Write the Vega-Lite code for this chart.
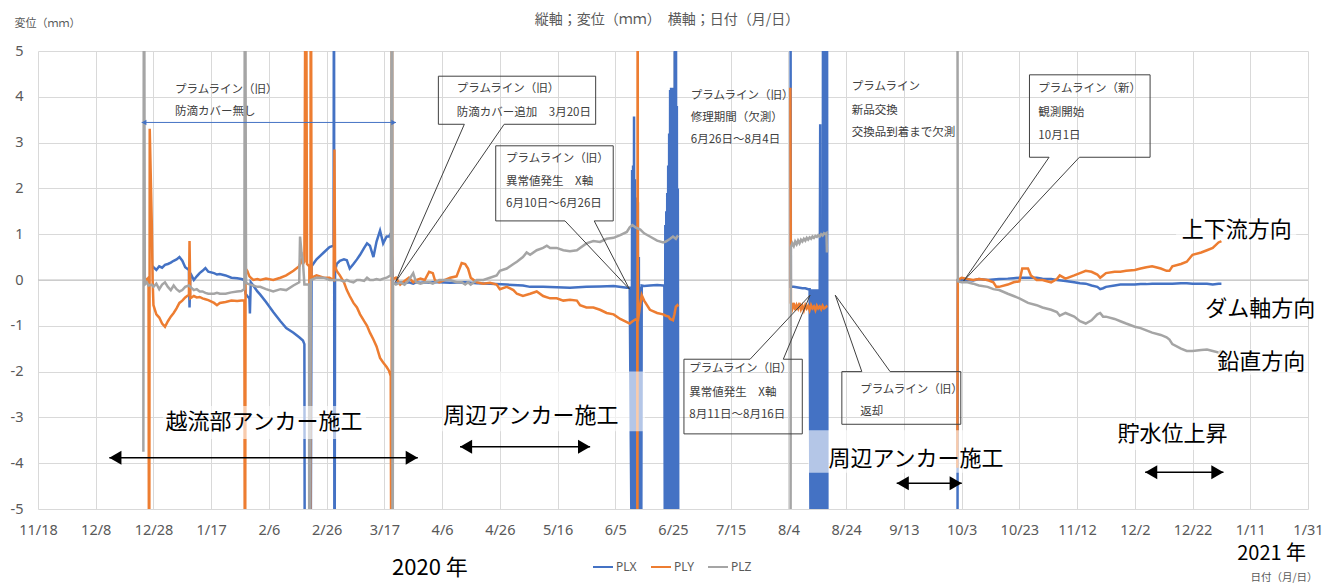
{
  "$schema": "https://vega.github.io/schema/vega-lite/v6.json",
  "width": 1270,
  "height": 458,
  "autosize": {"type": "none"},
  "padding": {"left": 38, "top": 51, "right": 30, "bottom": 74},
  "background": "white",
  "config": {"view": {"stroke": null}, "font": "Noto Sans CJK JP"},
  "title": {"text": "縦軸；変位（ｍｍ）　横軸；日付（月/日）", "font": "Noto Sans CJK JP", "fontSize": 14, "fontWeight": "normal", "color": "#595959", "anchor": "middle", "offset": 0, "dx": -6, "dy": 10},
  "datasets": {
    "series": [
      {"d":"2019-12-24T12:00:00Z","g":1,"PLZ":-3.75},
      {"d":"2019-12-24T17:00:00Z","g":1,"PLZ":10},
      {"d":"2019-12-25T00:00:00Z","g":1,"PLY":0.05,"PLZ":-0.1},
      {"d":"2019-12-25T16:00:00Z","g":1,"PLY":0.0,"PLZ":-0.05},
      {"d":"2019-12-26T07:00:00Z","g":1,"PLY":0.05,"PLZ":-0.12},
      {"d":"2019-12-26T12:00:00Z","g":1,"PLY":-10},
      {"d":"2019-12-26T17:00:00Z","g":1,"PLY":3.3},
      {"d":"2019-12-27T10:00:00Z","g":1,"PLY":1.25,"PLZ":-0.1},
      {"d":"2019-12-27T17:00:00Z","g":1,"PLX":0.25,"PLY":0.0},
      {"d":"2019-12-28","g":1,"PLX":0.28,"PLY":-0.55,"PLZ":-0.15},
      {"d":"2019-12-29","g":1,"PLX":0.22,"PLY":-0.75,"PLZ":-0.08},
      {"d":"2019-12-30","g":1,"PLX":0.3,"PLY":-0.82,"PLZ":-0.2},
      {"d":"2019-12-31","g":1,"PLX":0.27,"PLY":-0.95,"PLZ":-0.1},
      {"d":"2020-01-01","g":1,"PLX":0.33,"PLY":-1.02,"PLZ":-0.05},
      {"d":"2020-01-02","g":1,"PLX":0.35,"PLY":-0.9,"PLZ":-0.15},
      {"d":"2020-01-03","g":1,"PLX":0.38,"PLY":-0.8,"PLZ":-0.22},
      {"d":"2020-01-04","g":1,"PLX":0.42,"PLY":-0.72,"PLZ":-0.12},
      {"d":"2020-01-05","g":1,"PLX":0.45,"PLY":-0.62,"PLZ":-0.2},
      {"d":"2020-01-06","g":1,"PLX":0.5,"PLY":-0.5,"PLZ":-0.25},
      {"d":"2020-01-07","g":1,"PLX":0.42,"PLY":-0.45,"PLZ":-0.22},
      {"d":"2020-01-08","g":1,"PLX":0.28,"PLY":-0.38,"PLZ":-0.15},
      {"d":"2020-01-09T07:00:00Z","g":1,"PLX":0.22,"PLY":-0.32,"PLZ":-0.12},
      {"d":"2020-01-09T12:00:00Z","g":1,"PLX":-0.6,"PLY":0.85},
      {"d":"2020-01-09T19:00:00Z","g":1,"PLX":0.15,"PLY":-0.4,"PLZ":-0.15},
      {"d":"2020-01-11","g":1,"PLX":0.0,"PLY":-0.35,"PLZ":-0.22},
      {"d":"2020-01-12","g":1,"PLX":0.08,"PLY":-0.38,"PLZ":-0.2},
      {"d":"2020-01-13","g":1,"PLX":0.15,"PLY":-0.37,"PLZ":-0.25},
      {"d":"2020-01-14","g":1,"PLX":0.2,"PLY":-0.4,"PLZ":-0.25},
      {"d":"2020-01-15","g":1,"PLX":0.26,"PLY":-0.42,"PLZ":-0.28},
      {"d":"2020-01-16","g":1,"PLX":0.18,"PLY":-0.44,"PLZ":-0.3},
      {"d":"2020-01-18","g":1,"PLX":0.15,"PLY":-0.5,"PLZ":-0.3},
      {"d":"2020-01-19","g":1,"PLX":0.12,"PLY":-0.55,"PLZ":-0.28},
      {"d":"2020-01-20","g":1,"PLX":0.13,"PLY":-0.5,"PLZ":-0.3},
      {"d":"2020-01-22","g":1,"PLX":0.1,"PLY":-0.48,"PLZ":-0.3},
      {"d":"2020-01-24","g":1,"PLX":0.05,"PLY":-0.45,"PLZ":-0.27},
      {"d":"2020-01-26","g":1,"PLX":0.04,"PLY":-0.46,"PLZ":-0.25},
      {"d":"2020-01-27T12:00:00Z","g":1,"PLX":0.02,"PLY":-0.45,"PLZ":-0.24},
      {"d":"2020-01-28T12:00:00Z","g":1,"PLX":0.0,"PLY":-0.45,"PLZ":-0.2},
      {"d":"2020-01-28T17:00:00Z","g":1,"PLY":-10,"PLZ":10},
      {"d":"2020-01-28T22:00:00Z","g":1,"PLX":-0.3,"PLY":0.25},
      {"d":"2020-01-29T02:00:00Z","g":1,"PLZ":-0.05},
      {"d":"2020-01-29T12:00:00Z","g":1,"PLX":-0.35,"PLY":0.2,"PLZ":-0.08},
      {"d":"2020-01-30T06:00:00Z","g":1,"PLX":-0.4,"PLY":0.08},
      {"d":"2020-01-30T10:00:00Z","g":1,"PLX":-0.73},
      {"d":"2020-01-30T17:00:00Z","g":1,"PLX":-0.05,"PLY":0.05,"PLZ":-0.1},
      {"d":"2020-01-31T14:00:00Z","g":1,"PLX":-0.12,"PLY":0.0,"PLZ":-0.12},
      {"d":"2020-02-02","g":1,"PLX":-0.25,"PLY":0.02,"PLZ":-0.15},
      {"d":"2020-02-03","g":1,"PLX":-0.32,"PLY":0.0,"PLZ":-0.15},
      {"d":"2020-02-05","g":1,"PLX":-0.48,"PLY":0.03,"PLZ":-0.2},
      {"d":"2020-02-07T12:00:00Z","g":1,"PLX":-0.7,"PLY":0.0,"PLZ":-0.25},
      {"d":"2020-02-10","g":1,"PLX":-0.9,"PLY":0.05,"PLZ":-0.2},
      {"d":"2020-02-12","g":1,"PLX":-1.05,"PLY":0.1,"PLZ":-0.22},
      {"d":"2020-02-14T12:00:00Z","g":1,"PLX":-1.15,"PLY":0.2,"PLZ":-0.12},
      {"d":"2020-02-16T12:00:00Z","g":1,"PLX":-1.25,"PLY":0.3,"PLZ":-0.05},
      {"d":"2020-02-16T19:00:00Z","g":1,"PLZ":0.95},
      {"d":"2020-02-17T07:00:00Z","g":1,"PLY":0.45,"PLZ":0.6},
      {"d":"2020-02-17T19:00:00Z","g":1,"PLX":-1.32,"PLY":0.35,"PLZ":0.4},
      {"d":"2020-02-18T07:00:00Z","g":1,"PLX":-1.4,"PLY":0.4,"PLZ":-0.1},
      {"d":"2020-02-18T12:00:00Z","g":1,"PLX":-10},
      {"d":"2020-02-18T19:00:00Z","g":1,"PLY":10},
      {"d":"2020-02-19T05:00:00Z","g":1,"PLY":0.35},
      {"d":"2020-02-19T22:00:00Z","g":1,"PLZ":-0.1},
      {"d":"2020-02-20T00:00:00Z","g":1,"PLY":0.3,"PLZ":-10},
      {"d":"2020-02-20T07:00:00Z","g":1,"PLX":-10,"PLY":-10},
      {"d":"2020-02-20T12:00:00Z","g":1,"PLY":10,"PLZ":0.0},
      {"d":"2020-02-20T19:00:00Z","g":1,"PLX":0.3,"PLY":0.05},
      {"d":"2020-02-22T12:00:00Z","g":1,"PLX":0.45,"PLY":0.1,"PLZ":0.05},
      {"d":"2020-02-25","g":1,"PLX":0.6,"PLY":0.05,"PLZ":0.05},
      {"d":"2020-02-27","g":1,"PLX":0.72,"PLY":0.05,"PLZ":0.0},
      {"d":"2020-02-28T10:00:00Z","g":1,"PLX":0.75,"PLY":0.0,"PLZ":0.0},
      {"d":"2020-02-28T13:00:00Z","g":1,"PLX":10},
      {"d":"2020-02-28T17:00:00Z","g":1,"PLX":-10,"PLY":2.85},
      {"d":"2020-02-28T22:00:00Z","g":1,"PLX":0.2,"PLY":0.3},
      {"d":"2020-02-29T12:00:00Z","g":1,"PLX":0.35,"PLY":0.2,"PLZ":0.0},
      {"d":"2020-03-01T14:00:00Z","g":1,"PLX":0.42,"PLY":0.1,"PLZ":0.0},
      {"d":"2020-03-03","g":1,"PLX":0.45,"PLY":-0.05,"PLZ":-0.03},
      {"d":"2020-03-04","g":1,"PLX":0.43,"PLY":-0.22,"PLZ":0.0},
      {"d":"2020-03-05","g":1,"PLX":0.25,"PLY":-0.35,"PLZ":-0.03},
      {"d":"2020-03-06T07:00:00Z","g":1,"PLX":0.35,"PLY":-0.5,"PLZ":-0.05},
      {"d":"2020-03-07T12:00:00Z","g":1,"PLX":0.45,"PLY":-0.6,"PLZ":0.0},
      {"d":"2020-03-08T14:00:00Z","g":1,"PLX":0.55,"PLY":-0.75,"PLZ":0.0},
      {"d":"2020-03-10","g":1,"PLX":0.7,"PLY":-0.9,"PLZ":-0.02},
      {"d":"2020-03-11","g":1,"PLX":0.8,"PLY":-1.0,"PLZ":0.05},
      {"d":"2020-03-12","g":1,"PLX":0.75,"PLY":-1.15,"PLZ":0.0},
      {"d":"2020-03-13T05:00:00Z","g":1,"PLX":0.5,"PLY":-1.3,"PLZ":0.0},
      {"d":"2020-03-14T07:00:00Z","g":1,"PLX":0.84,"PLY":-1.45,"PLZ":0.02},
      {"d":"2020-03-15T12:00:00Z","g":1,"PLX":1.08,"PLY":-1.7,"PLZ":0.0},
      {"d":"2020-03-16T14:00:00Z","g":1,"PLX":0.8,"PLY":-1.8,"PLZ":0.03},
      {"d":"2020-03-17T19:00:00Z","g":1,"PLX":0.95,"PLY":-1.9,"PLZ":0.05},
      {"d":"2020-03-18T14:00:00Z","g":1,"PLX":0.95,"PLY":-1.98,"PLZ":0.08},
      {"d":"2020-03-19T05:00:00Z","g":1,"PLX":1.02,"PLY":-2.1,"PLZ":0.1},
      {"d":"2020-03-19T12:00:00Z","g":1,"PLY":-10},
      {"d":"2020-03-19T14:00:00Z","g":1,"PLY":10},
      {"d":"2020-03-19T18:00:00Z","g":1,"PLY":0.0,"PLZ":10},
      {"d":"2020-03-19T20:00:00Z","g":1,"PLZ":-10},
      {"d":"2020-03-20","g":1,"PLX":-0.05,"PLY":0.02,"PLZ":-0.05},
      {"d":"2020-03-21","g":1,"PLX":-0.08,"PLY":0.05,"PLZ":-0.1},
      {"d":"2020-03-22T12:00:00Z","g":1,"PLX":-0.05,"PLY":-0.1,"PLZ":-0.05},
      {"d":"2020-03-24","g":1,"PLX":-0.07,"PLY":-0.02,"PLZ":-0.1},
      {"d":"2020-03-25T12:00:00Z","g":1,"PLX":-0.05,"PLY":0.05,"PLZ":0.0},
      {"d":"2020-03-27","g":1,"PLX":-0.08,"PLY":-0.05,"PLZ":0.15},
      {"d":"2020-03-28","g":1,"PLX":-0.05,"PLY":0.0,"PLZ":-0.05},
      {"d":"2020-03-29T12:00:00Z","g":1,"PLX":-0.06,"PLY":0.03,"PLZ":-0.08},
      {"d":"2020-03-31","g":1,"PLX":-0.05,"PLY":0.0,"PLZ":-0.05},
      {"d":"2020-04-01T12:00:00Z","g":1,"PLX":-0.06,"PLY":0.18,"PLZ":-0.05},
      {"d":"2020-04-02T19:00:00Z","g":1,"PLX":-0.05,"PLY":0.15,"PLZ":-0.08},
      {"d":"2020-04-03T12:00:00Z","g":1,"PLY":0.0},
      {"d":"2020-04-05","g":1,"PLX":-0.05,"PLY":-0.05,"PLZ":0.0},
      {"d":"2020-04-08T19:00:00Z","g":1,"PLX":-0.06,"PLY":0.05,"PLZ":0.0},
      {"d":"2020-04-11","g":1,"PLY":0.08,"PLZ":-0.05},
      {"d":"2020-04-12T19:00:00Z","g":1,"PLY":0.37,"PLZ":-0.05},
      {"d":"2020-04-14","g":1,"PLX":-0.05,"PLY":0.35,"PLZ":-0.1},
      {"d":"2020-04-15","g":1,"PLY":0.25,"PLZ":-0.05},
      {"d":"2020-04-15T22:00:00Z","g":1,"PLY":0.05,"PLZ":-0.1},
      {"d":"2020-04-18","g":1,"PLX":-0.07,"PLY":-0.05,"PLZ":0.0},
      {"d":"2020-04-20T07:00:00Z","g":1,"PLY":-0.08,"PLZ":0.0},
      {"d":"2020-04-22T14:00:00Z","g":1,"PLX":-0.08,"PLY":-0.06,"PLZ":0.05},
      {"d":"2020-04-24T22:00:00Z","g":1,"PLY":-0.1,"PLZ":0.1},
      {"d":"2020-04-26","g":1,"PLY":-0.2,"PLZ":0.2},
      {"d":"2020-04-28T10:00:00Z","g":1,"PLX":-0.1,"PLY":-0.15,"PLZ":0.25},
      {"d":"2020-04-30T17:00:00Z","g":1,"PLY":-0.22,"PLZ":0.35},
      {"d":"2020-05-01T22:00:00Z","g":1,"PLY":-0.3,"PLZ":0.4},
      {"d":"2020-05-04","g":1,"PLX":-0.12,"PLY":-0.35,"PLZ":0.5},
      {"d":"2020-05-05T07:00:00Z","g":1,"PLZ":0.6},
      {"d":"2020-05-06T12:00:00Z","g":1,"PLX":-0.15,"PLY":-0.3,"PLZ":0.55},
      {"d":"2020-05-08T19:00:00Z","g":1,"PLY":-0.25,"PLZ":0.65},
      {"d":"2020-05-11","g":1,"PLX":-0.15,"PLY":-0.35,"PLZ":0.7},
      {"d":"2020-05-12T07:00:00Z","g":1,"PLZ":0.75},
      {"d":"2020-05-13T10:00:00Z","g":1,"PLY":-0.4,"PLZ":0.7},
      {"d":"2020-05-15T17:00:00Z","g":1,"PLX":-0.16,"PLY":-0.4,"PLZ":0.7},
      {"d":"2020-05-18","g":1,"PLY":-0.45,"PLZ":0.65},
      {"d":"2020-05-20T07:00:00Z","g":1,"PLX":-0.17,"PLY":-0.43,"PLZ":0.63},
      {"d":"2020-05-22T17:00:00Z","g":1,"PLY":-0.45,"PLZ":0.65},
      {"d":"2020-05-23T19:00:00Z","g":1,"PLY":-0.55,"PLZ":0.7},
      {"d":"2020-05-26","g":1,"PLX":-0.15,"PLY":-0.6,"PLZ":0.8},
      {"d":"2020-05-28T10:00:00Z","g":1,"PLY":-0.6,"PLZ":0.85},
      {"d":"2020-05-30T17:00:00Z","g":1,"PLX":-0.14,"PLY":-0.65,"PLZ":0.83},
      {"d":"2020-06-02","g":1,"PLY":-0.72,"PLZ":0.9},
      {"d":"2020-06-04T10:00:00Z","g":1,"PLX":-0.13,"PLY":-0.75,"PLZ":0.92},
      {"d":"2020-06-06T17:00:00Z","g":1,"PLY":-0.85,"PLZ":0.98},
      {"d":"2020-06-09","g":1,"PLX":-0.17,"PLY":-0.92,"PLZ":1.05},
      {"d":"2020-06-10","g":1,"PLX":-0.17,"PLY":-0.95,"PLZ":1.15},
      {"d":"2020-06-10T16:00:00Z","g":1,"PLX":-6},
      {"d":"2020-06-10T20:00:00Z","g":1,"PLX":2.4},
      {"d":"2020-06-10T22:00:00Z","g":1,"PLZ":1.2},
      {"d":"2020-06-11T00:00:00Z","g":1,"PLX":-6,"PLY":-0.9},
      {"d":"2020-06-11T04:00:00Z","g":1,"PLX":2.5},
      {"d":"2020-06-11T08:00:00Z","g":1,"PLX":-6},
      {"d":"2020-06-11T12:00:00Z","g":1,"PLX":3.57},
      {"d":"2020-06-11T16:00:00Z","g":1,"PLX":-6},
      {"d":"2020-06-11T20:00:00Z","g":1,"PLX":2.2},
      {"d":"2020-06-12T00:00:00Z","g":1,"PLX":-6,"PLY":-0.86,"PLZ":1.15},
      {"d":"2020-06-12T04:00:00Z","g":1,"PLX":1.8},
      {"d":"2020-06-12T08:00:00Z","g":1,"PLX":-6},
      {"d":"2020-06-12T12:00:00Z","g":1,"PLX":1.8},
      {"d":"2020-06-12T15:00:00Z","g":1,"PLY":-0.88},
      {"d":"2020-06-12T16:00:00Z","g":1,"PLX":-6,"PLY":-10},
      {"d":"2020-06-12T18:00:00Z","g":1,"PLY":10},
      {"d":"2020-06-12T20:00:00Z","g":1,"PLX":1.7,"PLY":-0.9},
      {"d":"2020-06-13T00:00:00Z","g":1,"PLX":-6},
      {"d":"2020-06-13T04:00:00Z","g":1,"PLX":0.5},
      {"d":"2020-06-13T08:00:00Z","g":1,"PLX":-6},
      {"d":"2020-06-13T12:00:00Z","g":1,"PLX":-0.2,"PLY":-0.6},
      {"d":"2020-06-13T16:00:00Z","g":1,"PLX":-6,"PLZ":1.1},
      {"d":"2020-06-13T20:00:00Z","g":1,"PLX":-0.15},
      {"d":"2020-06-14T00:00:00Z","g":1,"PLX":-6},
      {"d":"2020-06-14T04:00:00Z","g":1,"PLX":-0.12,"PLY":-0.33},
      {"d":"2020-06-15","g":1,"PLX":-0.13,"PLY":-0.45,"PLZ":1.02},
      {"d":"2020-06-17","g":1,"PLX":-0.12,"PLY":-0.65,"PLZ":0.95},
      {"d":"2020-06-19T12:00:00Z","g":1,"PLX":-0.11,"PLY":-0.72,"PLZ":0.86},
      {"d":"2020-06-21T14:00:00Z","g":1,"PLX":-0.12,"PLY":-0.75,"PLZ":0.82},
      {"d":"2020-06-22T00:00:00Z","g":1,"PLX":-0.12},
      {"d":"2020-06-22T04:00:00Z","g":1,"PLX":-6},
      {"d":"2020-06-22T08:00:00Z","g":1,"PLX":1.2},
      {"d":"2020-06-22T12:00:00Z","g":1,"PLX":-6,"PLY":-0.78,"PLZ":0.84},
      {"d":"2020-06-22T16:00:00Z","g":1,"PLX":1.5},
      {"d":"2020-06-22T20:00:00Z","g":1,"PLX":-6},
      {"d":"2020-06-23T00:00:00Z","g":1,"PLX":1.9},
      {"d":"2020-06-23T04:00:00Z","g":1,"PLX":-6},
      {"d":"2020-06-23T08:00:00Z","g":1,"PLX":2.5},
      {"d":"2020-06-23T12:00:00Z","g":1,"PLX":-6,"PLY":-0.8,"PLZ":0.88},
      {"d":"2020-06-23T16:00:00Z","g":1,"PLX":3.2},
      {"d":"2020-06-23T20:00:00Z","g":1,"PLX":-6},
      {"d":"2020-06-24T00:00:00Z","g":1,"PLX":4.15,"PLY":-0.85,"PLZ":0.9},
      {"d":"2020-06-24T04:00:00Z","g":1,"PLX":-6},
      {"d":"2020-06-24T08:00:00Z","g":1,"PLX":4.2},
      {"d":"2020-06-24T12:00:00Z","g":1,"PLX":-6},
      {"d":"2020-06-24T16:00:00Z","g":1,"PLX":4.1},
      {"d":"2020-06-24T20:00:00Z","g":1,"PLX":-6},
      {"d":"2020-06-25T00:00:00Z","g":1,"PLX":4.2,"PLY":-0.88,"PLZ":0.95},
      {"d":"2020-06-25T04:00:00Z","g":1,"PLX":-6},
      {"d":"2020-06-25T08:00:00Z","g":1,"PLX":4.1},
      {"d":"2020-06-25T12:00:00Z","g":1,"PLX":-6,"PLY":-0.75},
      {"d":"2020-06-25T16:00:00Z","g":1,"PLX":10},
      {"d":"2020-06-25T20:00:00Z","g":1,"PLX":-6},
      {"d":"2020-06-26T00:00:00Z","g":1,"PLX":10,"PLY":-0.58,"PLZ":0.9},
      {"d":"2020-06-26T04:00:00Z","g":1,"PLX":-6},
      {"d":"2020-06-26T08:00:00Z","g":1,"PLX":3.8},
      {"d":"2020-06-26T12:00:00Z","g":1,"PLX":-6,"PLY":-0.55,"PLZ":0.95},
      {"d":"2020-06-26T16:00:00Z","g":1,"PLX":2.0},
      {"d":"2020-06-26T20:00:00Z","g":1,"PLX":-6,"PLY":-0.58,"PLZ":0.93},
      {"d":"2020-08-04T16:00:00Z","g":2,"PLX":10,"PLY":4.2,"PLZ":-10},
      {"d":"2020-08-04T20:00:00Z","g":2,"PLX":-0.15,"PLY":-0.5,"PLZ":0.72},
      {"d":"2020-08-05T08:00:00Z","g":2,"PLY":-0.62,"PLZ":0.8},
      {"d":"2020-08-05T20:00:00Z","g":2,"PLX":-0.15,"PLY":-0.5,"PLZ":0.74},
      {"d":"2020-08-06T08:00:00Z","g":2,"PLY":-0.66,"PLZ":0.84},
      {"d":"2020-08-06T20:00:00Z","g":2,"PLX":-0.16,"PLY":-0.55,"PLZ":0.78},
      {"d":"2020-08-07T08:00:00Z","g":2,"PLY":-0.62,"PLZ":0.86},
      {"d":"2020-08-07T20:00:00Z","g":2,"PLX":-0.17,"PLY":-0.5,"PLZ":0.8},
      {"d":"2020-08-08T08:00:00Z","g":2,"PLY":-0.64,"PLZ":0.88},
      {"d":"2020-08-08T20:00:00Z","g":2,"PLX":-0.18,"PLY":-0.56,"PLZ":0.84},
      {"d":"2020-08-09T08:00:00Z","g":2,"PLY":-0.66,"PLZ":0.9},
      {"d":"2020-08-09T20:00:00Z","g":2,"PLX":-0.18,"PLY":-0.55,"PLZ":0.86},
      {"d":"2020-08-10T08:00:00Z","g":2,"PLY":-0.62,"PLZ":0.92},
      {"d":"2020-08-10T20:00:00Z","g":2,"PLX":-0.2,"PLY":-0.56,"PLZ":0.88},
      {"d":"2020-08-11T08:00:00Z","g":2,"PLX":-0.2,"PLY":-0.66,"PLZ":0.93},
      {"d":"2020-08-11T16:00:00Z","g":2,"PLX":-6},
      {"d":"2020-08-11T20:00:00Z","g":2,"PLX":-0.2,"PLY":-0.55,"PLZ":0.9},
      {"d":"2020-08-12T00:00:00Z","g":2,"PLX":-6},
      {"d":"2020-08-12T04:00:00Z","g":2,"PLX":-0.2},
      {"d":"2020-08-12T08:00:00Z","g":2,"PLX":-6,"PLY":-0.62,"PLZ":0.95},
      {"d":"2020-08-12T12:00:00Z","g":2,"PLX":-0.22},
      {"d":"2020-08-12T16:00:00Z","g":2,"PLX":-6},
      {"d":"2020-08-12T20:00:00Z","g":2,"PLX":-0.2,"PLY":-0.58,"PLZ":0.92},
      {"d":"2020-08-13T00:00:00Z","g":2,"PLX":-6},
      {"d":"2020-08-13T04:00:00Z","g":2,"PLX":-0.2},
      {"d":"2020-08-13T08:00:00Z","g":2,"PLX":-6,"PLY":-0.66,"PLZ":0.96},
      {"d":"2020-08-13T12:00:00Z","g":2,"PLX":-0.22},
      {"d":"2020-08-13T16:00:00Z","g":2,"PLX":-6},
      {"d":"2020-08-13T20:00:00Z","g":2,"PLX":-0.2,"PLY":-0.56,"PLZ":0.94},
      {"d":"2020-08-14T00:00:00Z","g":2,"PLX":-6},
      {"d":"2020-08-14T04:00:00Z","g":2,"PLX":-0.2},
      {"d":"2020-08-14T08:00:00Z","g":2,"PLX":-6,"PLY":-0.62,"PLZ":0.98},
      {"d":"2020-08-14T12:00:00Z","g":2,"PLX":-0.22},
      {"d":"2020-08-14T16:00:00Z","g":2,"PLX":-6},
      {"d":"2020-08-14T20:00:00Z","g":2,"PLX":-0.2,"PLY":-0.58,"PLZ":0.95},
      {"d":"2020-08-15T00:00:00Z","g":2,"PLX":3.4},
      {"d":"2020-08-15T04:00:00Z","g":2,"PLX":-6},
      {"d":"2020-08-15T08:00:00Z","g":2,"PLX":-0.2,"PLY":-0.64,"PLZ":1.0},
      {"d":"2020-08-15T12:00:00Z","g":2,"PLX":-6},
      {"d":"2020-08-15T16:00:00Z","g":2,"PLX":-0.2},
      {"d":"2020-08-15T20:00:00Z","g":2,"PLX":-6,"PLY":-0.56,"PLZ":0.97},
      {"d":"2020-08-16T00:00:00Z","g":2,"PLX":10},
      {"d":"2020-08-16T04:00:00Z","g":2,"PLX":-6},
      {"d":"2020-08-16T08:00:00Z","g":2,"PLX":10,"PLY":-0.62,"PLZ":1.02},
      {"d":"2020-08-16T12:00:00Z","g":2,"PLX":-6},
      {"d":"2020-08-16T16:00:00Z","g":2,"PLX":10},
      {"d":"2020-08-16T20:00:00Z","g":2,"PLX":-6,"PLY":-0.6,"PLZ":1.0},
      {"d":"2020-08-17T00:00:00Z","g":2,"PLX":10},
      {"d":"2020-08-17T04:00:00Z","g":2,"PLX":-6,"PLY":-0.58,"PLZ":1.02},
      {"d":"2020-08-17T08:00:00Z","g":2,"PLX":10,"PLY":-0.6,"PLZ":0.6},
      {"d":"2020-08-17T12:00:00Z","g":2,"PLX":-6},
      {"d":"2020-10-01T12:00:00Z","g":3,"PLX":-10,"PLY":-4.1,"PLZ":10},
      {"d":"2020-10-01T16:00:00Z","g":3,"PLX":0.0,"PLY":0.0,"PLZ":-0.03},
      {"d":"2020-10-03","g":3,"PLX":0.0,"PLY":0.05,"PLZ":-0.05},
      {"d":"2020-10-05","g":3,"PLX":0.0,"PLY":0.02,"PLZ":-0.05},
      {"d":"2020-10-07","g":3,"PLX":-0.01,"PLY":0.0,"PLZ":-0.08},
      {"d":"2020-10-09","g":3,"PLX":0.02,"PLY":0.02,"PLZ":-0.12},
      {"d":"2020-10-12","g":3,"PLX":0.0,"PLY":0.0,"PLZ":-0.15},
      {"d":"2020-10-14","g":3,"PLX":0.01,"PLY":-0.05,"PLZ":-0.2},
      {"d":"2020-10-15","g":3,"PLY":-0.15},
      {"d":"2020-10-16","g":3,"PLX":0.02,"PLY":-0.15,"PLZ":-0.22},
      {"d":"2020-10-19","g":3,"PLX":0.03,"PLY":-0.1,"PLZ":-0.3},
      {"d":"2020-10-21","g":3,"PLX":0.04,"PLY":-0.05,"PLZ":-0.35},
      {"d":"2020-10-23","g":3,"PLX":0.05,"PLY":-0.03,"PLZ":-0.4},
      {"d":"2020-10-24","g":3,"PLY":0.25},
      {"d":"2020-10-26","g":3,"PLX":0.05,"PLY":0.25,"PLZ":-0.5},
      {"d":"2020-10-27","g":3,"PLY":0.1},
      {"d":"2020-10-29","g":3,"PLX":0.05,"PLY":0.0,"PLZ":-0.55},
      {"d":"2020-10-31","g":3,"PLX":0.03,"PLY":0.0,"PLZ":-0.6},
      {"d":"2020-11-03","g":3,"PLX":0.02,"PLY":-0.05,"PLZ":-0.65},
      {"d":"2020-11-05","g":3,"PLX":0.0,"PLY":0.02,"PLZ":-0.7},
      {"d":"2020-11-06","g":3,"PLY":0.1,"PLZ":-0.78},
      {"d":"2020-11-08","g":3,"PLX":-0.02,"PLY":0.03,"PLZ":-0.72},
      {"d":"2020-11-11","g":3,"PLX":-0.05,"PLY":0.1,"PLZ":-0.8},
      {"d":"2020-11-13","g":3,"PLX":-0.07,"PLY":0.15,"PLZ":-0.9},
      {"d":"2020-11-15","g":3,"PLX":-0.08,"PLY":0.2,"PLZ":-0.95},
      {"d":"2020-11-17","g":3,"PLX":-0.12,"PLY":0.18,"PLZ":-0.88},
      {"d":"2020-11-19","g":3,"PLX":-0.15,"PLY":0.12,"PLZ":-0.75},
      {"d":"2020-11-20","g":3,"PLX":-0.2,"PLY":0.05,"PLZ":-0.72},
      {"d":"2020-11-21","g":3,"PLX":-0.18,"PLY":0.1,"PLZ":-0.8},
      {"d":"2020-11-22","g":3,"PLX":-0.15,"PLY":0.15,"PLZ":-0.8},
      {"d":"2020-11-25","g":3,"PLX":-0.12,"PLY":0.18,"PLZ":-0.85},
      {"d":"2020-11-27","g":3,"PLX":-0.1,"PLY":0.18,"PLZ":-0.9},
      {"d":"2020-11-29","g":3,"PLX":-0.1,"PLY":0.2,"PLZ":-0.95},
      {"d":"2020-12-02","g":3,"PLX":-0.1,"PLY":0.22,"PLZ":-1.02},
      {"d":"2020-12-04","g":3,"PLX":-0.09,"PLY":0.25,"PLZ":-1.05},
      {"d":"2020-12-06","g":3,"PLX":-0.09,"PLY":0.28,"PLZ":-1.1},
      {"d":"2020-12-08","g":3,"PLX":-0.08,"PLY":0.3,"PLZ":-1.15},
      {"d":"2020-12-11","g":3,"PLX":-0.08,"PLY":0.25,"PLZ":-1.2},
      {"d":"2020-12-13","g":3,"PLX":-0.08,"PLY":0.2,"PLZ":-1.25},
      {"d":"2020-12-14","g":3,"PLY":0.2,"PLZ":-1.3},
      {"d":"2020-12-15","g":3,"PLX":-0.08,"PLY":0.3,"PLZ":-1.4},
      {"d":"2020-12-18","g":3,"PLX":-0.07,"PLY":0.35,"PLZ":-1.5},
      {"d":"2020-12-20","g":3,"PLX":-0.07,"PLY":0.4,"PLZ":-1.55},
      {"d":"2020-12-22","g":3,"PLX":-0.08,"PLY":0.55,"PLZ":-1.55},
      {"d":"2020-12-25","g":3,"PLX":-0.08,"PLY":0.6,"PLZ":-1.53},
      {"d":"2020-12-27","g":3,"PLX":-0.08,"PLY":0.65,"PLZ":-1.52},
      {"d":"2020-12-29","g":3,"PLX":-0.1,"PLY":0.7,"PLZ":-1.55},
      {"d":"2020-12-31","g":3,"PLX":-0.08,"PLY":0.82,"PLZ":-1.58},
      {"d":"2021-01-01","g":3,"PLX":-0.08,"PLY":0.85,"PLZ":-1.55}
    ],
    "edges": [
      {"x1":"2020-04-04T17:00:00Z","x2":"2020-05-29T05:00:00Z","y1":4.45,"y2":4.45},
      {"x1":"2020-04-04T17:00:00Z","x2":"2020-04-04T17:00:00Z","y1":4.45,"y2":3.4},
      {"x1":"2020-05-29T05:00:00Z","x2":"2020-05-29T05:00:00Z","y1":4.45,"y2":3.4},
      {"x1":"2020-04-04T17:00:00Z","x2":"2020-04-13T17:00:00Z","y1":3.4,"y2":3.4},
      {"x1":"2020-04-27T12:00:00Z","x2":"2020-05-29T05:00:00Z","y1":3.4,"y2":3.4},
      {"x1":"2020-04-13T17:00:00Z","x2":"2020-03-20T22:00:00Z","y1":3.4,"y2":-0.04},
      {"x1":"2020-04-27T12:00:00Z","x2":"2020-03-20T22:00:00Z","y1":3.4,"y2":-0.04},
      {"x1":"2020-04-24T14:00:00Z","x2":"2020-06-04T07:00:00Z","y1":2.93,"y2":2.93},
      {"x1":"2020-04-24T14:00:00Z","x2":"2020-04-24T14:00:00Z","y1":2.93,"y2":1.29},
      {"x1":"2020-06-04T07:00:00Z","x2":"2020-06-04T07:00:00Z","y1":2.93,"y2":1.29},
      {"x1":"2020-04-24T14:00:00Z","x2":"2020-05-18T14:00:00Z","y1":1.29,"y2":1.29},
      {"x1":"2020-05-28T17:00:00Z","x2":"2020-06-04T07:00:00Z","y1":1.29,"y2":1.29},
      {"x1":"2020-05-18T14:00:00Z","x2":"2020-06-09T22:00:00Z","y1":1.29,"y2":-0.2},
      {"x1":"2020-05-28T17:00:00Z","x2":"2020-06-09T22:00:00Z","y1":1.29,"y2":-0.2},
      {"x1":"2020-10-26T12:00:00Z","x2":"2020-12-07T07:00:00Z","y1":4.48,"y2":4.48},
      {"x1":"2020-10-26T12:00:00Z","x2":"2020-10-26T12:00:00Z","y1":4.48,"y2":2.68},
      {"x1":"2020-12-07T07:00:00Z","x2":"2020-12-07T07:00:00Z","y1":4.48,"y2":2.68},
      {"x1":"2020-10-26T12:00:00Z","x2":"2020-11-02T07:00:00Z","y1":2.68,"y2":2.68},
      {"x1":"2020-11-12T19:00:00Z","x2":"2020-12-07T07:00:00Z","y1":2.68,"y2":2.68},
      {"x1":"2020-11-02T07:00:00Z","x2":"2020-10-03T17:00:00Z","y1":2.68,"y2":-0.02},
      {"x1":"2020-11-12T19:00:00Z","x2":"2020-10-03T17:00:00Z","y1":2.68,"y2":-0.02},
      {"x1":"2020-06-28T19:00:00Z","x2":"2020-08-08T19:00:00Z","y1":-3.36,"y2":-3.36},
      {"x1":"2020-06-28T19:00:00Z","x2":"2020-06-28T19:00:00Z","y1":-1.73,"y2":-3.36},
      {"x1":"2020-08-08T19:00:00Z","x2":"2020-08-08T19:00:00Z","y1":-1.73,"y2":-3.36},
      {"x1":"2020-06-28T19:00:00Z","x2":"2020-07-21T17:00:00Z","y1":-1.73,"y2":-1.73},
      {"x1":"2020-08-02T05:00:00Z","x2":"2020-08-08T19:00:00Z","y1":-1.73,"y2":-1.73},
      {"x1":"2020-07-21T17:00:00Z","x2":"2020-08-11T12:00:00Z","y1":-1.73,"y2":-0.33},
      {"x1":"2020-08-02T05:00:00Z","x2":"2020-08-11T12:00:00Z","y1":-1.73,"y2":-0.33},
      {"x1":"2020-08-22T12:00:00Z","x2":"2020-10-02T17:00:00Z","y1":-3.15,"y2":-3.15},
      {"x1":"2020-08-22T12:00:00Z","x2":"2020-08-22T12:00:00Z","y1":-2.0,"y2":-3.15},
      {"x1":"2020-10-02T17:00:00Z","x2":"2020-10-02T17:00:00Z","y1":-2.0,"y2":-3.15},
      {"x1":"2020-08-22T12:00:00Z","x2":"2020-08-29T10:00:00Z","y1":-2.0,"y2":-2.0},
      {"x1":"2020-09-08T05:00:00Z","x2":"2020-10-02T17:00:00Z","y1":-2.0,"y2":-2.0},
      {"x1":"2020-08-29T10:00:00Z","x2":"2020-08-20T05:00:00Z","y1":-2.0,"y2":-0.33},
      {"x1":"2020-09-08T05:00:00Z","x2":"2020-08-20T05:00:00Z","y1":-2.0,"y2":-0.33}
    ],
    "notes": [
      {"d":"2020-01-04T11:00:00Z","v":4.15,"t":"プラムライン（旧）"},
      {"d":"2020-01-04T11:00:00Z","v":3.66,"t":"防滴カバー無し"},
      {"d":"2020-04-11T02:00:00Z","v":4.16,"t":"プラムライン（旧）"},
      {"d":"2020-04-11T02:00:00Z","v":3.65,"t":"防滴カバー追加　3月20日"},
      {"d":"2020-04-28T04:00:00Z","v":2.64,"t":"プラムライン（旧）"},
      {"d":"2020-04-28T04:00:00Z","v":2.15,"t":"異常値発生　X軸"},
      {"d":"2020-04-28T04:00:00Z","v":1.67,"t":"6月10日～6月26日"},
      {"d":"2020-07-01T04:00:00Z","v":4.02,"t":"プラムライン（旧）"},
      {"d":"2020-07-01T04:00:00Z","v":3.53,"t":"修理期間（欠測）"},
      {"d":"2020-07-01T04:00:00Z","v":3.06,"t":"6月26日～8月4日"},
      {"d":"2020-08-25T23:00:00Z","v":4.22,"t":"プラムライン"},
      {"d":"2020-08-25T23:00:00Z","v":3.69,"t":"新品交換"},
      {"d":"2020-08-25T23:00:00Z","v":3.2,"t":"交換品到着まで欠測"},
      {"d":"2020-10-29T14:00:00Z","v":4.16,"t":"プラムライン（新）"},
      {"d":"2020-10-29T14:00:00Z","v":3.64,"t":"観測開始"},
      {"d":"2020-10-29T14:00:00Z","v":3.14,"t":"10月1日"},
      {"d":"2020-06-30T16:00:00Z","v":-1.95,"t":"プラムライン（旧）"},
      {"d":"2020-06-30T16:00:00Z","v":-2.47,"t":"異常値発生　X軸"},
      {"d":"2020-06-30T16:00:00Z","v":-2.95,"t":"8月11日～8月16日"},
      {"d":"2020-08-28T20:00:00Z","v":-2.4,"t":"プラムライン（旧）"},
      {"d":"2020-08-28T20:00:00Z","v":-2.88,"t":"返却"}
    ],
    "labels": [
      {"d":"2020-02-04T07:00:00Z","v":-3.1,"t":"越流部アンカー施工"},
      {"d":"2020-05-06T18:00:00Z","v":-2.98,"t":"周辺アンカー施工"},
      {"d":"2020-09-17T05:00:00Z","v":-3.91,"t":"周辺アンカー施工"},
      {"d":"2020-12-15T02:00:00Z","v":-3.36,"t":"貯水位上昇"},
      {"d":"2021-01-06T08:00:00Z","v":1.09,"t":"上下流方向"},
      {"d":"2021-01-14T10:00:00Z","v":-0.63,"t":"ダム軸方向"},
      {"d":"2021-01-14T19:00:00Z","v":-1.78,"t":"鉛直方向"},
      {"d":"2020-04-01T19:00:00Z","v":-6.29,"t":"2020 年"}
    ],
    "years": [
      {"d":"2021-01-18T10:00:00Z","v":-5.99,"t":"2021 年"}
    ],
    "bgs": [
      {"x1":"2019-12-31T07:00:00Z","x2":"2020-03-10T16:00:00Z","y1":-2.75,"y2":-3.47},
      {"x1":"2020-04-06T00:00:00Z","x2":"2020-06-15T07:00:00Z","y1":-2.0,"y2":-3.3},
      {"x1":"2020-08-10T19:00:00Z","x2":"2020-10-18T02:00:00Z","y1":-3.28,"y2":-4.21},
      {"x1":"2020-11-23T11:00:00Z","x2":"2021-01-05T19:00:00Z","y1":-3.06,"y2":-3.71},
      {"x1":"2020-12-16T07:00:00Z","x2":"2021-01-26T22:00:00Z","y1":1.35,"y2":0.87},
      {"x1":"2020-12-24T14:00:00Z","x2":"2021-02-04T05:00:00Z","y1":-0.37,"y2":-0.92},
      {"x1":"2020-12-30T22:00:00Z","x2":"2021-01-31T17:00:00Z","y1":-1.51,"y2":-2.07}
    ],
    "warrows": [
      {"x1":"2019-12-12T17:00:00Z","x2":"2020-03-28T14:00:00Z","y":-3.88},
      {"x1":"2020-04-12T05:00:00Z","x2":"2020-05-27T07:00:00Z","y":-3.64},
      {"x1":"2020-09-10T12:00:00Z","x2":"2020-10-03T01:00:00Z","y":-4.44},
      {"x1":"2020-12-05T14:00:00Z","x2":"2021-01-01T17:00:00Z","y":-4.2}
    ],
    "carrow": [
      {"x1":"2019-12-23T22:00:00Z","x2":"2020-03-21T01:00:00Z","y":3.44}
    ]
  },
  "layer": [
    {
      "data": {"values": [{"v": 0}]},
      "mark": {"type": "rule", "color": "#BFBFBF", "strokeWidth": 1},
      "encoding": {
        "y": {"field": "v", "type": "quantitative", "scale": {"domain": [-5, 5], "nice": false, "zero": false},
          "axis": {
            "values": [-5, -4, -3, -2, -1, 0, 1, 2, 3, 4, 5],
            "labelExpr": "'' + datum.value",
            "grid": true, "gridColor": "#D9D9D9", "gridWidth": 1,
            "domain": false, "ticks": false, "tickSize": 0,
            "labelFont": "Noto Sans", "labelFontSize": 14.5, "labelColor": "#595959", "labelPadding": 15,
            "title": "変位（ｍｍ）", "titleFont": "Noto Sans CJK JP", "titleFontSize": 11, "titleFontWeight": "normal", "titleColor": "#595959",
            "titleAngle": 0, "titleX": -24, "titleY": -28, "titleAlign": "left", "titleBaseline": "middle", "titleAnchor": "start"
          }
        }
      }
    },
    {
      "data": {"name": "series"},
      "transform": [{"fold": ["PLX", "PLY", "PLZ"], "as": ["s", "v"]}, {"filter": "datum.s === 'PLX' && isValid(datum.v)"}],
      "mark": {"type": "line", "clip": true, "strokeWidth": 2.5, "invalid": "filter"},
      "encoding": {
        "x": {"field": "d", "type": "temporal",
          "scale": {"type": "utc", "nice": false, "domain": [{"year": 2019, "month": 11, "date": 18, "utc": true}, {"year": 2021, "month": 1, "date": 31, "utc": true}]},
          "axis": {
            "values": [
              {"year": 2019, "month": 11, "date": 18, "utc": true},
              {"year": 2019, "month": 12, "date": 8, "utc": true},
              {"year": 2019, "month": 12, "date": 28, "utc": true},
              {"year": 2020, "month": 1, "date": 17, "utc": true},
              {"year": 2020, "month": 2, "date": 6, "utc": true},
              {"year": 2020, "month": 2, "date": 26, "utc": true},
              {"year": 2020, "month": 3, "date": 17, "utc": true},
              {"year": 2020, "month": 4, "date": 6, "utc": true},
              {"year": 2020, "month": 4, "date": 26, "utc": true},
              {"year": 2020, "month": 5, "date": 16, "utc": true},
              {"year": 2020, "month": 6, "date": 5, "utc": true},
              {"year": 2020, "month": 6, "date": 25, "utc": true},
              {"year": 2020, "month": 7, "date": 15, "utc": true},
              {"year": 2020, "month": 8, "date": 4, "utc": true},
              {"year": 2020, "month": 8, "date": 24, "utc": true},
              {"year": 2020, "month": 9, "date": 13, "utc": true},
              {"year": 2020, "month": 10, "date": 3, "utc": true},
              {"year": 2020, "month": 10, "date": 23, "utc": true},
              {"year": 2020, "month": 11, "date": 12, "utc": true},
              {"year": 2020, "month": 12, "date": 2, "utc": true},
              {"year": 2020, "month": 12, "date": 22, "utc": true},
              {"year": 2021, "month": 1, "date": 11, "utc": true},
              {"year": 2021, "month": 1, "date": 31, "utc": true}
            ],
            "labelExpr": "utcFormat(datum.value, '%-m/%-d')",
            "grid": true, "gridColor": "#D9D9D9", "gridWidth": 1,
            "domain": false, "ticks": false, "tickSize": 0,
            "labelFont": "Noto Sans", "labelFontSize": 14.5, "labelColor": "#595959", "labelPadding": 14,
            "labelOverlap": false, "labelFlush": false, "labelBound": false,
            "title": "日付（月/日）", "titleFont": "Noto Sans CJK JP", "titleFontSize": 10.5, "titleFontWeight": "normal", "titleColor": "#595959",
            "titleX": 1212, "titleY": 68, "titleAlign": "left", "titleBaseline": "middle", "titleAnchor": "start"
          }
        },
        "y": {"field": "v", "type": "quantitative", "scale": {"domain": [-5, 5], "nice": false, "zero": false}},
        "color": {"field": "s", "type": "nominal",
          "scale": {"domain": ["PLX", "PLY", "PLZ"], "range": ["#4472C4", "#ED7D31", "#A5A5A5"]},
          "legend": {"orient": "none", "legendX": 554, "legendY": 505, "direction": "horizontal", "title": null,
            "symbolType": "stroke", "symbolSize": 400, "symbolStrokeWidth": 2, "labelFont": "Noto Sans", "labelFontSize": 12,
            "labelColor": "#595959", "labelOffset": 2, "columnPadding": 10, "padding": 0}
        },
        "detail": {"field": "g", "type": "nominal"}
      }
    },
    {
      "data": {"name": "series"},
      "transform": [{"fold": ["PLX", "PLY", "PLZ"], "as": ["s", "v"]}, {"filter": "datum.s === 'PLY' && isValid(datum.v)"}],
      "mark": {"type": "line", "clip": true, "strokeWidth": 2.5, "invalid": "filter"},
      "encoding": {
        "x": {"field": "d", "type": "temporal", "scale": {"type": "utc", "nice": false, "domain": [{"year": 2019, "month": 11, "date": 18, "utc": true}, {"year": 2021, "month": 1, "date": 31, "utc": true}]}},
        "y": {"field": "v", "type": "quantitative", "scale": {"domain": [-5, 5], "nice": false, "zero": false}},
        "color": {"field": "s", "type": "nominal", "scale": {"domain": ["PLX", "PLY", "PLZ"], "range": ["#4472C4", "#ED7D31", "#A5A5A5"]}},
        "detail": {"field": "g", "type": "nominal"}
      }
    },
    {
      "data": {"name": "series"},
      "transform": [{"fold": ["PLX", "PLY", "PLZ"], "as": ["s", "v"]}, {"filter": "datum.s === 'PLZ' && isValid(datum.v)"}],
      "mark": {"type": "line", "clip": true, "strokeWidth": 2.5, "invalid": "filter"},
      "encoding": {
        "x": {"field": "d", "type": "temporal", "scale": {"type": "utc", "nice": false, "domain": [{"year": 2019, "month": 11, "date": 18, "utc": true}, {"year": 2021, "month": 1, "date": 31, "utc": true}]}},
        "y": {"field": "v", "type": "quantitative", "scale": {"domain": [-5, 5], "nice": false, "zero": false}},
        "color": {"field": "s", "type": "nominal", "scale": {"domain": ["PLX", "PLY", "PLZ"], "range": ["#4472C4", "#ED7D31", "#A5A5A5"]}},
        "detail": {"field": "g", "type": "nominal"}
      }
    },
    {
      "data": {"name": "bgs"},
      "mark": {"type": "rect", "color": "white", "opacity": 0.6, "clip": true},
      "encoding": {
        "x": {"field": "x1", "type": "temporal", "scale": {"type": "utc", "nice": false, "domain": [{"year": 2019, "month": 11, "date": 18, "utc": true}, {"year": 2021, "month": 1, "date": 31, "utc": true}]}},
        "x2": {"field": "x2"},
        "y": {"field": "y1", "type": "quantitative", "scale": {"domain": [-5, 5], "nice": false, "zero": false}},
        "y2": {"field": "y2"}
      }
    },
    {
      "data": {"name": "edges"},
      "mark": {"type": "rule", "color": "#404040", "strokeWidth": 1},
      "encoding": {
        "x": {"field": "x1", "type": "temporal", "scale": {"type": "utc", "nice": false, "domain": [{"year": 2019, "month": 11, "date": 18, "utc": true}, {"year": 2021, "month": 1, "date": 31, "utc": true}]}},
        "x2": {"field": "x2"},
        "y": {"field": "y1", "type": "quantitative", "scale": {"domain": [-5, 5], "nice": false, "zero": false}},
        "y2": {"field": "y2"}
      }
    },
    {
      "data": {"name": "warrows"},
      "mark": {"type": "rule", "color": "black", "strokeWidth": 1.5},
      "encoding": {
        "x": {"field": "x1", "type": "temporal", "scale": {"type": "utc", "nice": false, "domain": [{"year": 2019, "month": 11, "date": 18, "utc": true}, {"year": 2021, "month": 1, "date": 31, "utc": true}]}},
        "x2": {"field": "x2"},
        "y": {"field": "y", "type": "quantitative", "scale": {"domain": [-5, 5], "nice": false, "zero": false}}
      }
    },
    {
      "data": {"name": "warrows"},
      "mark": {"type": "point", "shape": "M0,0L1.73,-1L1.73,1Z", "filled": true, "size": 196, "color": "black", "opacity": 1, "strokeWidth": 0},
      "encoding": {
        "x": {"field": "x1", "type": "temporal", "scale": {"type": "utc", "nice": false, "domain": [{"year": 2019, "month": 11, "date": 18, "utc": true}, {"year": 2021, "month": 1, "date": 31, "utc": true}]}},
        "y": {"field": "y", "type": "quantitative", "scale": {"domain": [-5, 5], "nice": false, "zero": false}}
      }
    },
    {
      "data": {"name": "warrows"},
      "mark": {"type": "point", "shape": "M0,0L-1.73,-1L-1.73,1Z", "filled": true, "size": 196, "color": "black", "opacity": 1, "strokeWidth": 0},
      "encoding": {
        "x": {"field": "x2", "type": "temporal", "scale": {"type": "utc", "nice": false, "domain": [{"year": 2019, "month": 11, "date": 18, "utc": true}, {"year": 2021, "month": 1, "date": 31, "utc": true}]}},
        "y": {"field": "y", "type": "quantitative", "scale": {"domain": [-5, 5], "nice": false, "zero": false}}
      }
    },
    {
      "data": {"name": "carrow"},
      "mark": {"type": "rule", "color": "#4472C4", "strokeWidth": 1},
      "encoding": {
        "x": {"field": "x1", "type": "temporal", "scale": {"type": "utc", "nice": false, "domain": [{"year": 2019, "month": 11, "date": 18, "utc": true}, {"year": 2021, "month": 1, "date": 31, "utc": true}]}},
        "x2": {"field": "x2"},
        "y": {"field": "y", "type": "quantitative", "scale": {"domain": [-5, 5], "nice": false, "zero": false}}
      }
    },
    {
      "data": {"name": "carrow"},
      "mark": {"type": "point", "shape": "M0,0L1.73,-1L1.73,1Z", "filled": true, "size": 30, "color": "#4472C4", "opacity": 1, "strokeWidth": 0},
      "encoding": {
        "x": {"field": "x1", "type": "temporal", "scale": {"type": "utc", "nice": false, "domain": [{"year": 2019, "month": 11, "date": 18, "utc": true}, {"year": 2021, "month": 1, "date": 31, "utc": true}]}},
        "y": {"field": "y", "type": "quantitative", "scale": {"domain": [-5, 5], "nice": false, "zero": false}}
      }
    },
    {
      "data": {"name": "carrow"},
      "mark": {"type": "point", "shape": "M0,0L-1.73,-1L-1.73,1Z", "filled": true, "size": 30, "color": "#4472C4", "opacity": 1, "strokeWidth": 0},
      "encoding": {
        "x": {"field": "x2", "type": "temporal", "scale": {"type": "utc", "nice": false, "domain": [{"year": 2019, "month": 11, "date": 18, "utc": true}, {"year": 2021, "month": 1, "date": 31, "utc": true}]}},
        "y": {"field": "y", "type": "quantitative", "scale": {"domain": [-5, 5], "nice": false, "zero": false}}
      }
    },
    {
      "data": {"name": "labels"},
      "mark": {"type": "text", "font": "Noto Sans CJK JP", "fontSize": 22, "color": "black", "align": "center", "baseline": "middle"},
      "encoding": {
        "x": {"field": "d", "type": "temporal", "scale": {"type": "utc", "nice": false, "domain": [{"year": 2019, "month": 11, "date": 18, "utc": true}, {"year": 2021, "month": 1, "date": 31, "utc": true}]}},
        "y": {"field": "v", "type": "quantitative", "scale": {"domain": [-5, 5], "nice": false, "zero": false}},
        "text": {"field": "t"}
      }
    },
    {
      "data": {"name": "years"},
      "mark": {"type": "text", "font": "Noto Sans CJK JP", "fontSize": 20, "color": "black", "align": "center", "baseline": "middle"},
      "encoding": {
        "x": {"field": "d", "type": "temporal", "scale": {"type": "utc", "nice": false, "domain": [{"year": 2019, "month": 11, "date": 18, "utc": true}, {"year": 2021, "month": 1, "date": 31, "utc": true}]}},
        "y": {"field": "v", "type": "quantitative", "scale": {"domain": [-5, 5], "nice": false, "zero": false}},
        "text": {"field": "t"}
      }
    },
    {
      "data": {"name": "notes"},
      "mark": {"type": "text", "font": "Noto Sans CJK JP", "fontSize": 11.5, "color": "#404040", "align": "left", "baseline": "middle"},
      "encoding": {
        "x": {"field": "d", "type": "temporal", "scale": {"type": "utc", "nice": false, "domain": [{"year": 2019, "month": 11, "date": 18, "utc": true}, {"year": 2021, "month": 1, "date": 31, "utc": true}]}},
        "y": {"field": "v", "type": "quantitative", "scale": {"domain": [-5, 5], "nice": false, "zero": false}},
        "text": {"field": "t"}
      }
    }
  ]
}
